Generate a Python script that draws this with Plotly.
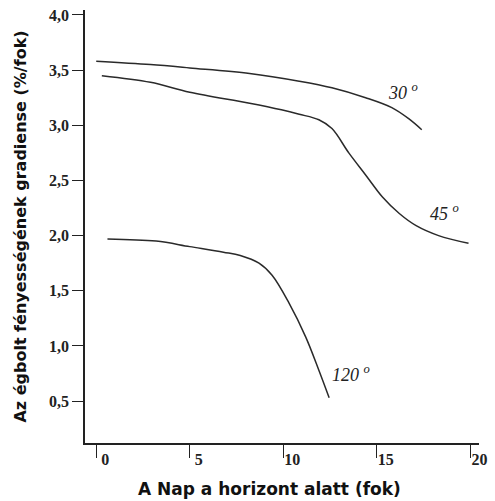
import plotly.graph_objects as go

# Data
x30 = [0, 2.9, 5.0, 8.2, 10.85, 12.6, 14.4, 15.8, 16.7, 17.4]
y30 = [3.58, 3.55, 3.52, 3.47, 3.40, 3.34, 3.25, 3.16, 3.06, 2.96]

x45 = [0.3, 2.9, 5.0, 8.2, 9.9, 10.85, 11.9, 12.6, 13.5, 14.4, 15.3, 16.2, 17.1, 18.3, 19.9]
y45 = [3.45, 3.39, 3.30, 3.20, 3.14, 3.10, 3.05, 2.97, 2.75, 2.55, 2.35, 2.20, 2.09, 2.00, 1.93]

x120 = [0.6, 3.2, 5.0, 6.8, 7.7, 8.7, 9.4, 10.3, 11.2, 11.9, 12.45]
y120 = [1.97, 1.95, 1.90, 1.85, 1.82, 1.75, 1.64, 1.39, 1.08, 0.78, 0.53]

series_names = ["30 <sup>o</sup>", "45 <sup>o</sup>", "120 <sup>o</sup>"]
label_x = [16.4, 18.6, 13.6]
label_y = [3.31, 2.21, 0.75]

x_tickvals = [0, 5, 10, 15, 20]
x_ticktext = ["0", "5", "10", "15", "20"]
y_tickvals = [0.5, 1.0, 1.5, 2.0, 2.5, 3.0, 3.5, 4.0]
y_ticktext = ["0,5", "1,0", "1,5", "2,0", "2,5", "3,0", "3,5", "4,0"]

x_title = "A Nap a horizont alatt (fok)"
y_title = "Az égbolt fényességének gradiense (%/fok)"

fig = go.Figure()
line_style = dict(color="#2a2a2a", width=1.5, shape="spline", smoothing=1.0)
for xs, ys in [(x30, y30), (x45, y45), (x120, y120)]:
    fig.add_trace(go.Scatter(x=xs, y=ys, mode="lines", line=line_style,
                             showlegend=False, hoverinfo="skip"))

for name, lx, ly in zip(series_names, label_x, label_y):
    fig.add_annotation(x=lx, y=ly, text=name, showarrow=False,
                       font=dict(family="Liberation Serif", size=18, color="#222",
                                 style="italic"))

tick_font = dict(family="Liberation Serif", size=16, color="#222", weight="bold")
title_font = dict(family="DejaVu Sans", size=17, color="#111", weight=600)

# x-axis title (slightly left of the plot centre, as in the reference)
fig.add_annotation(xref="paper", yref="paper", x=0.468, y=-0.107, yanchor="middle",
                   text=x_title, showarrow=False, font=title_font)

fig.update_layout(
    width=495, height=501,
    margin=dict(l=85, r=16, t=10, b=58),
    plot_bgcolor="white", paper_bgcolor="white",
    xaxis=dict(
        range=[-0.6, 20.46], tickvals=x_tickvals, ticktext=x_ticktext,
        ticks="outside", ticklen=13, tickwidth=1.2, tickcolor="#222",
        showline=True, linecolor="#222", linewidth=1.5,
        showgrid=False, zeroline=False, tickfont=tick_font,
        ticklabelshift=9, ticklabelstandoff=-12, automargin=False,
    ),
    yaxis=dict(
        range=[0.12, 4.045], tickvals=y_tickvals, ticktext=y_ticktext,
        ticks="outside", ticklen=11, tickwidth=1.2, tickcolor="#222",
        showline=True, linecolor="#222", linewidth=1.5,
        showgrid=False, zeroline=False, tickfont=tick_font, automargin=False,
        title=dict(text=y_title, font=dict(family="DejaVu Sans", size=16, color="#111", weight=600),
                   standoff=18),
    ),
)

fig.write_html("out.html", config={"displayModeBar": False},
               post_script="document.body.style.margin='0';")
